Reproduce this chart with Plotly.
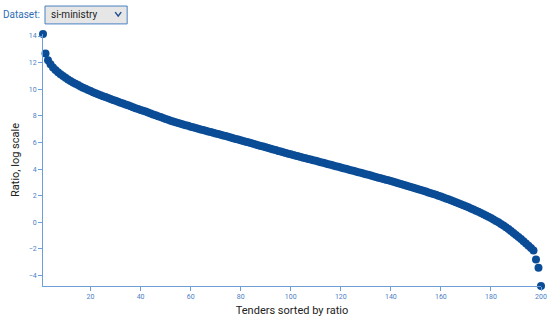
import plotly.graph_objects as go

# tender ratios (log scale), sorted descending
ratio = [
    14.15, 12.68, 12.17, 11.87, 11.64, 11.45, 11.28, 11.13, 10.99, 10.86,
    10.74, 10.62, 10.51, 10.41, 10.31, 10.21, 10.12, 10.03, 9.94, 9.86,
    9.78, 9.70, 9.62, 9.55, 9.48, 9.41, 9.34, 9.27, 9.20, 9.13,
    9.06, 8.99, 8.92, 8.86, 8.79, 8.72, 8.65, 8.58, 8.52, 8.45,
    8.38, 8.32, 8.25, 8.18, 8.11, 8.04, 7.98, 7.91, 7.84, 7.77,
    7.70, 7.64, 7.57, 7.52, 7.46, 7.41, 7.36, 7.30, 7.25, 7.19,
    7.14, 7.09, 7.03, 6.98, 6.93, 6.88, 6.83, 6.78, 6.73, 6.68,
    6.63, 6.58, 6.53, 6.48, 6.43, 6.37, 6.32, 6.27, 6.22, 6.17,
    6.12, 6.06, 6.01, 5.96, 5.90, 5.85, 5.80, 5.74, 5.69, 5.64,
    5.58, 5.53, 5.48, 5.43, 5.37, 5.32, 5.27, 5.22, 5.16, 5.11,
    5.06, 5.01, 4.96, 4.91, 4.86, 4.81, 4.76, 4.72, 4.67, 4.62,
    4.57, 4.52, 4.47, 4.42, 4.37, 4.32, 4.27, 4.22, 4.17, 4.12,
    4.07, 4.02, 3.97, 3.92, 3.87, 3.82, 3.77, 3.72, 3.67, 3.62,
    3.57, 3.52, 3.47, 3.41, 3.36, 3.31, 3.26, 3.21, 3.16, 3.10,
    3.05, 2.99, 2.94, 2.88, 2.82, 2.77, 2.71, 2.66, 2.60, 2.54,
    2.48, 2.43, 2.37, 2.31, 2.25, 2.19, 2.13, 2.07, 2.00, 1.94,
    1.87, 1.80, 1.73, 1.66, 1.59, 1.51, 1.44, 1.37, 1.29, 1.21,
    1.13, 1.05, 0.97, 0.88, 0.79, 0.70, 0.61, 0.52, 0.42, 0.32,
    0.22, 0.11, 0.00, -0.12, -0.24, -0.37, -0.50, -0.64, -0.79, -0.95,
    -1.10, -1.25, -1.42, -1.58, -1.75, -1.92, -2.12, -2.78, -3.40, -4.78,
]
rank = list(range(1, len(ratio) + 1))

x_ticks = [20, 40, 60, 80, 100, 120, 140, 160, 180, 200]
y_ticks = [-4, -2, 0, 2, 4, 6, 8, 10, 12, 14]
dataset = "si-ministry"

axis_blue = "#6f9fd8"
label_blue = "#4a80c4"
dot_blue = "#0b4c96"

fig = go.Figure(go.Scatter(
    x=rank, y=ratio, mode="markers",
    marker=dict(size=8, color=dot_blue),
    cliponaxis=False, showlegend=False,
))

axis_common = dict(
    showgrid=False, zeroline=False, showline=True, linecolor=axis_blue, linewidth=1,
    ticks="outside", ticklen=4, tickcolor=axis_blue, automargin=False,
    tickfont=dict(size=7, color=label_blue, family="Roboto"),
)

# dataset selector drawn as a box, label and chevron above the plot
fig.add_shape(type="rect", xref="paper", yref="paper",
              x0=0.004, x1=0.169, y0=1.040, y1=1.111,
              fillcolor="#e6e6e6", line=dict(color=label_blue, width=1))
fig.add_shape(type="path", xref="paper", yref="paper",
              path="M 0.145 1.087 L 0.151 1.071 L 0.157 1.087",
              line=dict(color="#1f4f8f", width=1.5))
fig.add_annotation(text=dataset, xref="paper", yref="paper", x=0.012, y=1.076,
                   xanchor="left", yanchor="middle", showarrow=False,
                   font=dict(size=10, color="#222", family="Roboto"))
fig.add_annotation(text="Dataset:", xref="paper", yref="paper", x=-0.002, y=1.076,
                   xanchor="right", yanchor="middle", showarrow=False,
                   font=dict(size=10, color="#2f6db5", family="Roboto"))

fig.update_layout(
    width=550, height=317,
    margin=dict(l=43, r=9, t=34, b=31, autoexpand=False),
    paper_bgcolor="white", plot_bgcolor="white",
    font=dict(family="Roboto", color="#222"),
    xaxis=dict(
        range=[1, 200], tickvals=x_ticks, **axis_common,
        title=dict(text="Tenders sorted by ratio", font=dict(size=11, color="#222"), standoff=5),
    ),
    yaxis=dict(
        range=[min(ratio), max(ratio)], tickvals=y_ticks, **axis_common,
        title=dict(text="Ratio, log scale", font=dict(size=11, color="#222"), standoff=6),
    ),
)

fig.write_html("out.html", config={"displayModeBar": False},
               post_script="document.body.style.margin='0';")
